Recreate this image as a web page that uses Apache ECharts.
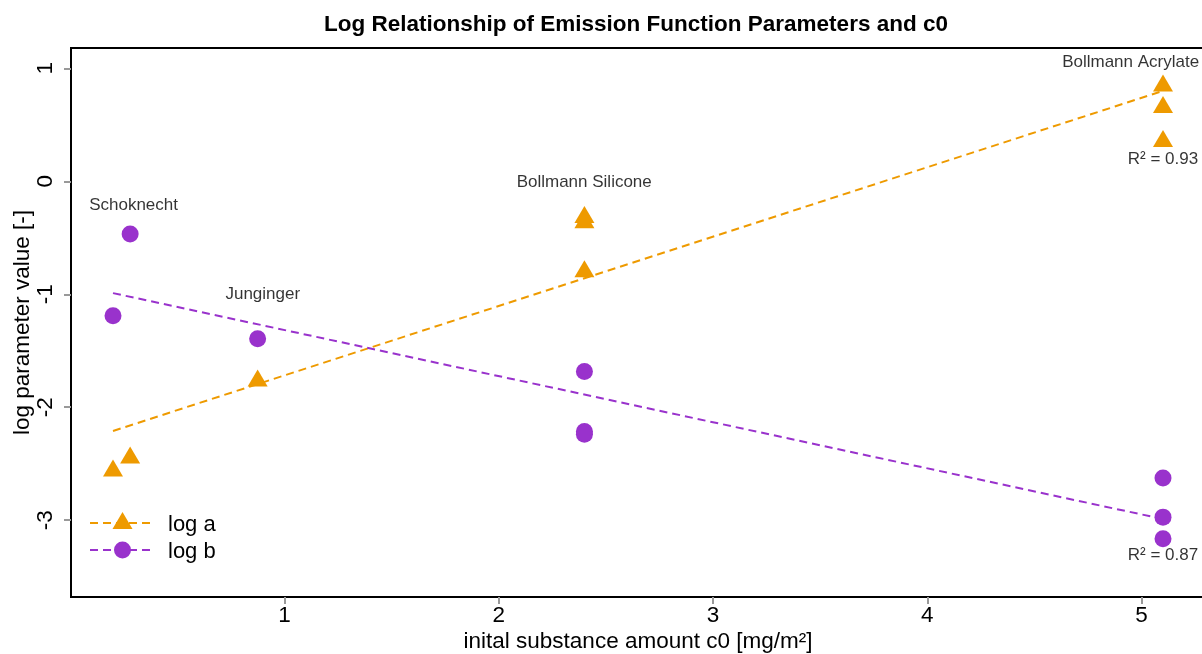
<!DOCTYPE html>
<html>
<head>
<meta charset="utf-8">
<script src="https://cdn.jsdelivr.net/npm/echarts@6/dist/echarts.min.js"></script>
<style>
  html, body { margin: 0; padding: 0; background: #fff; }
  #chart { width: 1202px; height: 654px; }
</style>
</head>
<body>
<div id="chart"></div>
<script>
// Initial substance amount c0 [mg/m²] per measurement
const c0A  = [0.2, 0.28, 0.875, 2.4, 2.4, 2.4, 5.1, 5.1, 5.1];
const logA = [-2.565, -2.45, -1.767, -0.32, -0.366, -0.80, 0.843, 0.653, 0.352];
const c0B  = [0.2, 0.28, 0.875, 2.4, 2.4, 2.4, 5.1, 5.1, 5.1];
const logB = [-1.19, -0.466, -1.393, -1.683, -2.215, -2.24, -2.627, -2.973, -3.165];

// Linear fits over the c0 range
const fitX = [0.2, 5.1];
const fitA = [-2.21, 0.80];
const fitB = [-0.99, -2.99];

// Study names and fit quality notes
const noteText = ['Schoknecht', 'Junginger', 'Bollmann Silicone', 'Bollmann Acrylate', 'R² = 0.93', 'R² = 0.87'];
const noteX = [0.296, 0.899, 2.399, 4.949, 5.10, 5.10];
const noteY = [-0.215, -1.004, -0.009, 1.049, 0.192, -3.307];

const xTicks = [1, 2, 3, 4, 5];
const yTicks = [-3, -2, -1, 0, 1];

const ORANGE = '#EE9A00';
const PURPLE = '#9932CC';
const FONT = '"Liberation Sans", Arial, sans-serif';

const zip = (xs, ys) => xs.map((x, i) => [x, ys[i]]);

const chart = echarts.init(document.getElementById('chart'), null, { renderer: 'canvas' });

chart.setOption({
  animation: false,
  backgroundColor: '#fff',
  textStyle: { fontFamily: FONT },
  title: {
    text: 'Log Relationship of Emission Function Parameters and c0',
    left: 631,
    top: 8,
    textAlign: 'center',
    textStyle: { fontFamily: FONT, fontSize: 22.5, fontWeight: 'bold', color: '#000' }
  },
  grid: {
    left: 71, top: 48, right: -3, bottom: 57,
    outerBoundsMode: 'none',
    containLabel: false,
    show: true, borderColor: '#000', borderWidth: 2, backgroundColor: 'transparent'
  },
  xAxis: {
    type: 'value',
    min: 0.004, max: 5.296,
    name: 'inital substance amount c0 [mg/m²]',
    nameLocation: 'middle',
    nameGap: 33,
    nameMoveOverlap: false,
    nameTextStyle: { fontFamily: FONT, fontSize: 22.5, color: '#000' },
    axisLine: { show: true, onZero: false, lineStyle: { color: '#000', width: 2 } },
    axisTick: { show: true, length: 7, customValues: xTicks, lineStyle: { color: '#999', width: 2 } },
    axisLabel: { customValues: xTicks, fontFamily: FONT, fontSize: 22.5, color: '#000', margin: 7,
                 formatter: v => String(v) },
    splitLine: { show: false }
  },
  yAxis: {
    type: 'value',
    min: -3.68, max: 1.18,
    name: 'log parameter value [-]',
    nameLocation: 'middle',
    nameRotate: 90,
    nameGap: 37,
    nameMoveOverlap: false,
    nameTextStyle: { fontFamily: FONT, fontSize: 22.5, color: '#000' },
    axisLine: { show: true, onZero: false, lineStyle: { color: '#000', width: 2 } },
    axisTick: { show: true, length: 7, customValues: yTicks, lineStyle: { color: '#999', width: 2 } },
    axisLabel: { customValues: yTicks, rotate: 90, fontFamily: FONT, fontSize: 22.5, color: '#000', margin: 14,
                 formatter: v => String(v) },
    splitLine: { show: false }
  },
  series: [
    {
      name: 'log a fit', type: 'line', data: zip(fitX, fitA), symbol: 'none', silent: true, z: 2,
      lineStyle: { color: ORANGE, width: 2, type: [8, 5] }
    },
    {
      name: 'log b fit', type: 'line', data: zip(fitX, fitB), symbol: 'none', silent: true, z: 2,
      lineStyle: { color: PURPLE, width: 2, type: [8, 5] }
    },
    {
      name: 'log a', type: 'scatter', data: zip(c0A, logA), z: 3,
      symbol: 'triangle', symbolSize: [20, 17], symbolOffset: [0, -3],
      itemStyle: { color: ORANGE, opacity: 1 }
    },
    {
      name: 'log b', type: 'scatter', data: zip(c0B, logB), z: 3,
      symbol: 'circle', symbolSize: 17,
      itemStyle: { color: PURPLE, opacity: 1 }
    },
    {
      name: 'notes', type: 'scatter', silent: true, z: 4,
      data: noteText.map((t, i) => ({ value: [noteX[i], noteY[i]], name: t })),
      symbolSize: 0,
      itemStyle: { color: 'transparent' },
      label: {
        show: true, position: 'inside', formatter: p => p.name,
        fontFamily: FONT, fontSize: 17, color: '#000'
      }
    }
  ],
  graphic: [
    { type: 'line', shape: { x1: 90, y1: 523, x2: 155, y2: 523 },
      style: { stroke: ORANGE, lineWidth: 2, lineDash: [8, 5] } },
    { type: 'polygon', shape: { points: [[122.5, 512], [132.5, 529], [112.5, 529]] },
      style: { fill: ORANGE } },
    { type: 'text', x: 168, y: 525,
      style: { text: 'log a', fontFamily: FONT, fontSize: 22, fill: '#000', textVerticalAlign: 'middle' } },
    { type: 'line', shape: { x1: 90, y1: 550, x2: 155, y2: 550 },
      style: { stroke: PURPLE, lineWidth: 2, lineDash: [8, 5] } },
    { type: 'circle', shape: { cx: 122.5, cy: 550, r: 8.5 },
      style: { fill: PURPLE } },
    { type: 'text', x: 168, y: 552,
      style: { text: 'log b', fontFamily: FONT, fontSize: 22, fill: '#000', textVerticalAlign: 'middle' } }
  ]
});
</script>
</body>
</html>
